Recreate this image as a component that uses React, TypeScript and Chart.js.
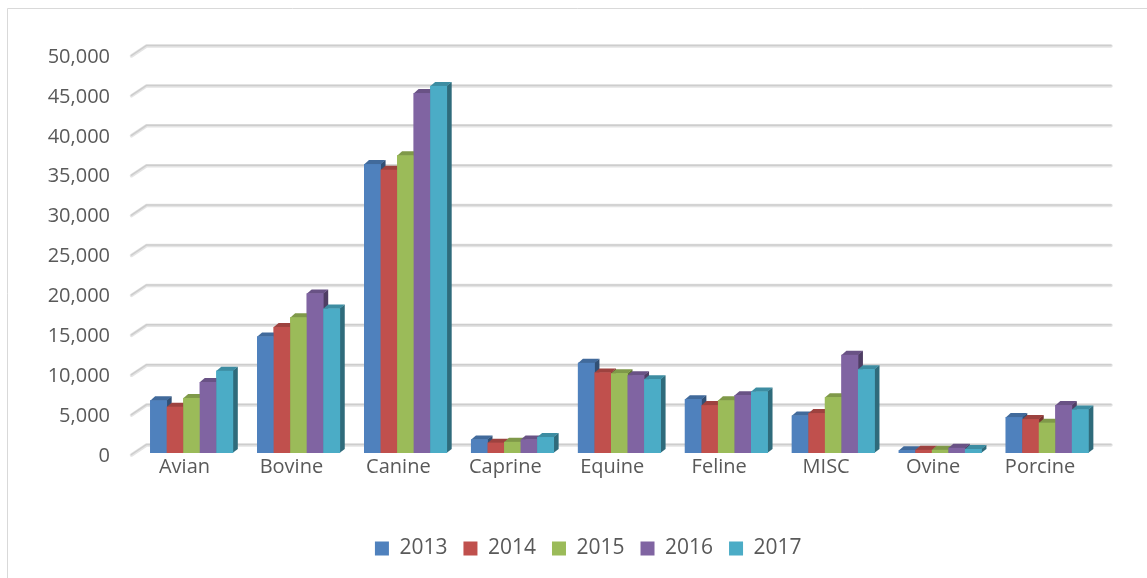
import React, { useEffect, useRef } from "react";
import { Chart, registerables } from "chart.js";

Chart.register(...registerables);

const categories = ["Avian", "Bovine", "Canine", "Caprine", "Equine", "Feline", "MISC", "Ovine", "Porcine"];
const seriesNames = ["2013", "2014", "2015", "2016", "2017"];
const values2013 = [6600, 14600, 36200, 1700, 11300, 6750, 4700, 350, 4500];
const values2014 = [5800, 15800, 35500, 1300, 10100, 6000, 5000, 400, 4250];
const values2015 = [6900, 17000, 37300, 1400, 10000, 6600, 7000, 400, 3800];
const values2016 = [8900, 20000, 45100, 1700, 9750, 7250, 12300, 650, 6000];
const values2017 = [10300, 18100, 46000, 2000, 9250, 7700, 10500, 500, 5450];
const seriesColors = ["#4F81BD", "#C0504D", "#9BBB59", "#8064A2", "#4BACC6"];

const FONT = "'Open Sans', 'Noto Sans', sans-serif";
const TEXT = "#595959";
const DX = 5;
const DY = 4;
const LEGEND_SHIFT = 38;

function shade(hex: string, f: number): string {
  const n = parseInt(hex.slice(1), 16);
  const r = Math.round(((n >> 16) & 255) * f);
  const g = Math.round(((n >> 8) & 255) * f);
  const b = Math.round((n & 255) * f);
  return `rgb(${r},${g},${b})`;
}

const bars3d = {
  id: "bars3d",
  afterLayout(chart: any) {
    if (chart.legend) {
      chart.legend.left += LEGEND_SHIFT;
      chart.legend.right += LEGEND_SHIFT;
    }
  },
  beforeDraw(chart: any) {
    const ctx = chart.ctx;
    ctx.save();
    ctx.fillStyle = "#ffffff";
    ctx.fillRect(0, 0, chart.width, chart.height);
    ctx.strokeStyle = "#d9d9d9";
    ctx.lineWidth = 1;
    ctx.beginPath();
    ctx.moveTo(7.5, chart.height);
    ctx.lineTo(7.5, 8.5);
    ctx.lineTo(chart.width, 8.5);
    ctx.stroke();
    ctx.restore();
  },
  beforeDatasetsDraw(chart: any) {
    const ctx = chart.ctx;
    const ys = chart.scales.y;
    const area = chart.chartArea;
    const diagL = area.left - 6.5;
    const diagR = area.left + 8.5;
    const backR = area.right + 10.5;
    ctx.save();
    for (const t of ys.ticks) {
      const yb = ys.getPixelForValue(t.value);
      const back = yb - 8;
      const front = yb + 2;
      ctx.lineCap = "round";
      ctx.strokeStyle = "#e4e4e4";
      ctx.lineWidth = 3.5;
      ctx.beginPath();
      ctx.moveTo(diagL, front);
      ctx.lineTo(diagR, back);
      ctx.lineTo(backR, back);
      ctx.stroke();
      ctx.strokeStyle = "#cdcdcd";
      ctx.lineWidth = 1.5;
      ctx.beginPath();
      ctx.moveTo(diagL, front - 0.5);
      ctx.lineTo(diagR, back - 0.5);
      ctx.lineTo(backR, back - 0.5);
      ctx.stroke();
    }
    ctx.restore();
  },
  afterDatasetsDraw(chart: any) {
    const ctx = chart.ctx;
    const n = chart.data.labels.length;
    const m = chart.data.datasets.length;
    ctx.save();
    for (let i = 0; i < n; i++) {
      for (let d = 0; d < m; d++) {
        const el: any = chart.getDatasetMeta(d).data[i];
        if (!el) continue;
        const { x, y, base, width } = el;
        const l = x - width / 2;
        const r = x + width / 2;
        const c = seriesColors[d];
        ctx.fillStyle = shade(c, 0.62);
        ctx.beginPath();
        ctx.moveTo(r - 0.3, y);
        ctx.lineTo(r + DX, y - DY);
        ctx.lineTo(r + DX, base - DY);
        ctx.lineTo(r - 0.3, base);
        ctx.closePath();
        ctx.fill();
        ctx.fillStyle = shade(c, 0.82);
        ctx.beginPath();
        ctx.moveTo(l, y + 0.3);
        ctx.lineTo(l + DX, y - DY);
        ctx.lineTo(r + DX, y - DY);
        ctx.lineTo(r, y + 0.3);
        ctx.closePath();
        ctx.fill();
        ctx.fillStyle = c;
        ctx.fillRect(l, y, width + 0.4, base - y);
      }
    }
    ctx.restore();
  },
};

export default function App() {
  const ref = useRef<HTMLCanvasElement | null>(null);
  useEffect(() => {
    if (!ref.current) return;
    const all = [values2013, values2014, values2015, values2016, values2017];
    const chart = new Chart(ref.current, {
      type: "bar",
      data: {
        labels: categories,
        datasets: seriesNames.map((name, i) => ({
          label: name,
          data: all[i],
          backgroundColor: seriesColors[i],
          borderWidth: 0,
          categoryPercentage: 0.773,
          barPercentage: 1,
        })),
      },
      options: {
        animation: false,
        responsive: false,
        devicePixelRatio: 1,
        layout: { padding: { top: 54, right: 46.5, bottom: 9, left: 0 } },
        plugins: {
          tooltip: { enabled: false },
          legend: {
            position: "bottom",
            labels: {
              boxWidth: 14,
              boxHeight: 14,
              padding: 16,
              color: TEXT,
              font: { family: FONT, size: 21 },
            },
          },
        },
        scales: {
          x: {
            grid: { display: false, drawTicks: false },
            border: { display: false },
            ticks: { color: TEXT, font: { family: FONT, size: 20 }, padding: 2, labelOffset: -7 },
            afterFit: (s: any) => {
              s.height = 69;
            },
          },
          y: {
            min: 0,
            max: 50000,
            grid: { display: false, drawTicks: false },
            border: { display: false },
            ticks: {
              stepSize: 5000,
              color: TEXT,
              font: { family: FONT, size: 20 },
              padding: 28,
              labelOffset: 3,
              callback: (v: any) => Number(v).toLocaleString("en-US"),
            },
            afterFit: (s: any) => {
              s.width = 138;
            },
          },
        },
      },
      plugins: [bars3d],
    });
    return () => chart.destroy();
  }, []);
  return (
    <div style={{ position: "absolute", left: 0, top: 0, width: 1147, height: 578, overflow: "hidden" }}>
      <canvas ref={ref} width={1147} height={578} style={{ display: "block" }} />
    </div>
  );
}
